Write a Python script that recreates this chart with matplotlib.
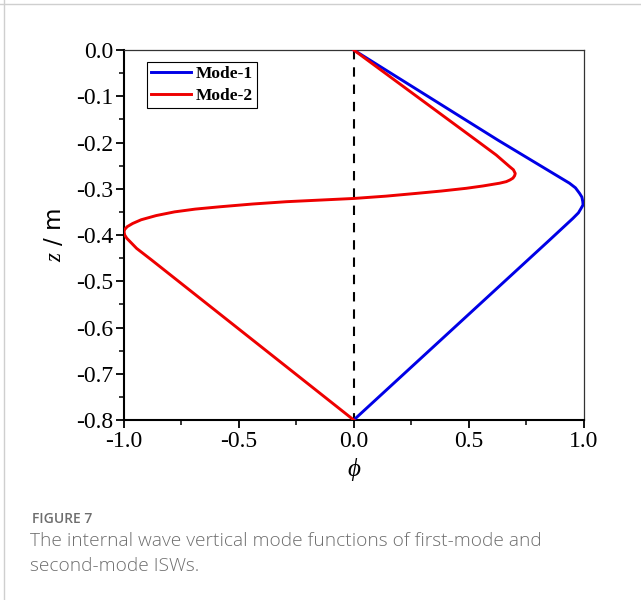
import numpy as np
import matplotlib
matplotlib.use('Agg')
import matplotlib.pyplot as plt
from matplotlib.lines import Line2D

plt.rcParams['axes.unicode_minus'] = False
plt.rcParams['mathtext.fontset'] = 'custom'
plt.rcParams['mathtext.rm'] = 'Liberation Serif'
plt.rcParams['mathtext.it'] = 'Liberation Serif:italic'

# Mode functions (phi, z in m)
mode1_phi = [0.0, 0.628, 0.852, 0.939, 0.965, 0.983, 0.993, 0.997, 0.998,
             0.99, 0.978, 0.954, 0.852, 0.0]
mode1_z = [0.0, -0.195, -0.262, -0.288, -0.298, -0.310, -0.318, -0.328, -0.335,
           -0.342, -0.352, -0.364, -0.411, -0.8]

mode2_phi = [0.0, 0.533, 0.62, 0.678, 0.695, 0.703, 0.700, 0.693, 0.68, 0.664,
             0.635, 0.562, 0.49, 0.38, 0.273, 0.14, 0.0, -0.293, -0.44, -0.583,
             -0.69, -0.78, -0.86, -0.925, -0.962, -0.986, -0.997, -1.0, -0.997,
             -0.988, -0.945, -0.88, 0.0]
mode2_z = [0.0, -0.195, -0.227, -0.252, -0.259, -0.267, -0.272, -0.277, -0.281,
           -0.2846, -0.288, -0.294, -0.299, -0.305, -0.310, -0.316, -0.321,
           -0.328, -0.333, -0.339, -0.344, -0.350, -0.358, -0.367, -0.375,
           -0.382, -0.388, -0.393, -0.400, -0.407, -0.429, -0.454, -0.8]

x_ticks = [-1.0, -0.5, 0.0, 0.5, 1.0]
y_ticks = [0.0, -0.1, -0.2, -0.3, -0.4, -0.5, -0.6, -0.7, -0.8]

caption_head = 'FIGURE 7'
caption_lines = ['The internal wave vertical mode functions of first-mode and',
                 'second-mode ISWs.']

fig = plt.figure(figsize=(6.41, 6.0), dpi=100)

# light page frame (top and left edges only)
fig.add_artist(Line2D([0, 1], [1 - 4 / 600, 1 - 4 / 600], color='#cfcfcf', lw=1.0))
fig.add_artist(Line2D([4 / 641, 4 / 641], [0, 1], color='#cfcfcf', lw=1.0))

ax = fig.add_axes([124 / 641, 0.30, 459.5 / 641, 370 / 600])

ax.plot([0, 0], [0, -0.8], color='black', lw=1.5, dashes=(4.5, 3.8), zorder=1)
ax.plot(mode1_phi, mode1_z, color='#0000e6', lw=2.1, label='Mode-1', zorder=3)
ax.plot(mode2_phi, mode2_z, color='#ee0000', lw=2.1, label='Mode-2', zorder=3)

ax.set_xlim(-1.0, 1.0)
ax.set_ylim(-0.8, 0.0)
ax.set_xticks(x_ticks)
ax.set_yticks(y_ticks)
ax.set_xticks(np.arange(-1.0, 1.01, 0.25), minor=True)
ax.set_yticks(np.arange(-0.8, 0.001, 0.05), minor=True)
ax.set_xticklabels(['%.1f' % v for v in x_ticks])
ax.set_yticklabels(['%.1f' % v for v in y_ticks])

for lab in ax.get_xticklabels() + ax.get_yticklabels():
    lab.set_family('Liberation Serif')
    lab.set_fontsize(17)

ax.tick_params(which='major', direction='out', length=6, width=1.3, pad=2,
               top=False, right=False)
ax.tick_params(which='minor', direction='out', length=3.5, width=1.1,
               top=False, right=False)

ax.spines['left'].set_linewidth(1.5)
ax.spines['bottom'].set_linewidth(1.5)
ax.spines['top'].set_linewidth(0.9)
ax.spines['right'].set_linewidth(0.9)
ax.spines['top'].set_color('#333333')
ax.spines['right'].set_color('#333333')

ax.set_xlabel(r'$\phi$', fontsize=18, labelpad=3)
ax.set_ylabel(r'$z$ / m', fontsize=16.5, labelpad=7)

leg = ax.legend(loc='upper left', bbox_to_anchor=(0.05, 0.968), borderaxespad=0,
                fancybox=False, edgecolor='black', framealpha=1,
                handlelength=2.3, handletextpad=0.25, labelspacing=0.3,
                borderpad=0.25, prop={'family': 'Liberation Serif',
                                      'weight': 'bold', 'size': 12.5})
leg.get_frame().set_linewidth(0.8)

fig.text(32 / 641, 1 - 523 / 600, caption_head, family='Open Sans', weight='semibold',
         fontsize=10, color='#6e6e6e', va='baseline')
fig.text(30 / 641, 1 - 546 / 600, caption_lines[0], family='Open Sans', weight='light',
         fontsize=13.8, color='#6e6e6e', va='baseline')
fig.text(30 / 641, 1 - 571 / 600, caption_lines[1], family='Open Sans', weight='light',
         fontsize=13.8, color='#6e6e6e', va='baseline')

fig.savefig('out.png', dpi=100)
